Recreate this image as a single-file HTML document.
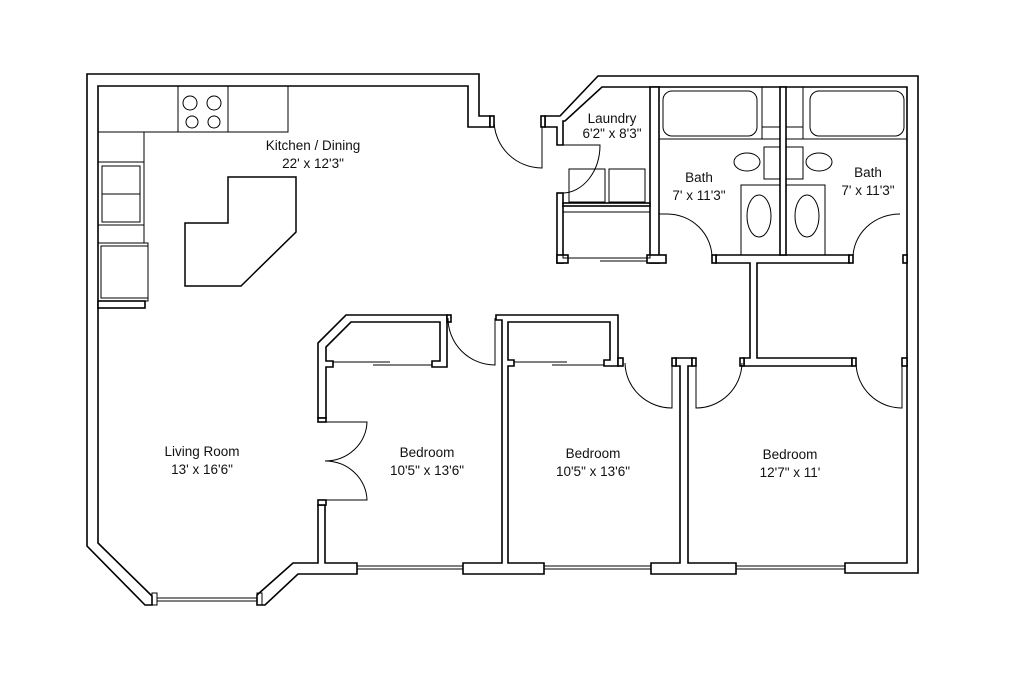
<!DOCTYPE html>
<html><head><meta charset="utf-8"><style>
html,body{margin:0;padding:0;background:#fff;}
svg{display:block;}
text{font-family:"Liberation Sans",sans-serif;font-size:13.5px;fill:#111;text-anchor:middle;}
</style></head><body>
<svg width="1024" height="683" viewBox="0 0 1024 683" xmlns="http://www.w3.org/2000/svg">
<rect width="1024" height="683" fill="#fff"/>
<g fill="#fff" stroke="#000" stroke-width="1.6" stroke-linejoin="miter">
<!-- left outer wall -->
<polygon points="87,74 479,74 479,116 490,116 490,127 468,127 468,86 98,86 98,543 152,596 152,605 145,605 87,546"/>
<!-- bedroom1 bottom wall -->
<polygon points="257,595 293,563 318,563 318,505 325,505 325,563 357,563 357,574 298,574 265,605 257,605"/>
<!-- bedroom1 closet wall -->
<polygon points="318,418 318,343 346,315 447,315 447,367 432,367 432,361 440,361 440,322 351,322 326,347 326,361 333,361 333,367 326,367 326,418"/>
<!-- bedroom2 wall -->
<polygon points="496,315 618,315 618,366 604,366 604,360 610,360 610,322 508,322 508,360 514,360 514,366 508,366 508,563 544,563 544,574 463,574 463,563 502,563 502,320 496,320"/>
<!-- wall between bed2 and bed3 -->
<polygon points="676,358 692,358 692,366 688,366 688,563 736,563 736,574 651,574 651,563 680,563 680,366 676,366"/>
<!-- central T -->
<polygon points="716,255 849,255 849,263 757,263 757,358 852,358 852,366 744,366 744,358 750,358 750,263 716,263"/>
<!-- right outer wall -->
<polygon points="545,116 560,116 598,76 918,76 918,573 845,573 845,563 907,563 907,87 602,87 565,121 563,121 563,145 557,145 557,127 545,127"/>
<!-- laundry/bath wall -->
<rect x="650" y="87" width="9" height="176"/>
<rect x="647" y="255" width="19" height="8"/>
<rect x="780" y="87" width="6" height="168"/>
<!-- laundry lower -->
<rect x="557" y="193" width="6" height="70"/>
<rect x="557" y="255" width="11" height="8"/>
<rect x="563" y="203" width="87" height="3"/>
<!-- small left wall stub -->
<rect x="98" y="301" width="47" height="7"/>
<!-- door jambs -->
<rect x="490" y="116" width="4" height="11"/>
<rect x="541" y="116" width="4" height="11"/>
<rect x="447" y="315" width="4" height="7"/>
<rect x="318" y="418" width="8" height="4"/>
<rect x="318" y="500" width="8" height="5"/>
<rect x="712" y="255" width="4" height="8"/>
<rect x="849" y="255" width="4" height="8"/>
<rect x="903" y="255" width="4" height="8"/>
<rect x="618" y="358" width="5" height="8"/>
<rect x="672" y="358" width="4" height="8"/>
<rect x="692" y="358" width="4" height="8"/>
<rect x="740" y="358" width="4" height="8"/>
<rect x="852" y="358" width="4" height="8"/>
<rect x="902" y="358" width="5" height="8"/>
</g>
<g fill="none" stroke="#000" stroke-width="1">
<!-- windows -->
<line x1="157" y1="598" x2="257" y2="598"/><line x1="157" y1="601" x2="257" y2="601"/>
<line x1="357" y1="566" x2="463" y2="566"/><line x1="357" y1="569" x2="463" y2="569"/>
<line x1="544" y1="566" x2="651" y2="566"/><line x1="544" y1="569" x2="651" y2="569"/>
<line x1="736" y1="566" x2="845" y2="566"/><line x1="736" y1="569" x2="845" y2="569"/>
<rect x="152" y="593" width="5" height="12"/><rect x="257" y="593" width="5" height="12"/>
<!-- closet sliding doors -->
<line x1="333" y1="362" x2="390" y2="362"/><line x1="373" y1="365" x2="432" y2="365"/>
<line x1="514" y1="362" x2="567" y2="362"/><line x1="552" y1="365" x2="604" y2="365"/>
<line x1="568" y1="258" x2="612" y2="258"/><line x1="600" y1="261" x2="647" y2="261"/>
<!-- doors -->
<path d="M494,121 A48,48 0 0 0 542,168 L542,127"/>
<path d="M448,318 A47,47 0 0 0 495,365 L495,318"/>
<path d="M326,422 L367,422 A42,40 0 0 1 325,461 A42,40 0 0 1 367,500 L326,500"/>
<path d="M563,145 L600,145 A38,48 0 0 1 563,193"/>
<path d="M667,214 A45,44 0 0 1 712,258"/>
<line x1="659" y1="214" x2="667" y2="214"/>
<path d="M900,214 A47,44 0 0 0 853,258"/>
<path d="M625,363 A47,46 0 0 0 672,408 L672,366"/>
<path d="M742,363 A46,46 0 0 1 696,408 L696,366"/>
<path d="M856,363 A46,46 0 0 0 902,408 L902,366"/>
<!-- kitchen -->
<rect x="98" y="86" width="190" height="46"/>
<line x1="178" y1="86" x2="178" y2="132"/><line x1="228" y1="86" x2="228" y2="132"/>
<circle cx="190" cy="103" r="7"/><circle cx="214" cy="103" r="7"/>
<circle cx="192" cy="122" r="6"/><circle cx="214" cy="122" r="6"/>
<rect x="98" y="132" width="46" height="111"/>
<line x1="98" y1="162" x2="144" y2="162"/><line x1="98" y1="225" x2="144" y2="225"/>
<rect x="102" y="166" width="38" height="56"/><line x1="102" y1="194" x2="140" y2="194"/>
<rect x="98" y="243" width="50" height="58"/>
<rect x="101" y="246" width="47" height="52"/>
<polygon stroke-width="1.5" points="228,177 296,177 296,232 241,286 185,286 185,223 228,223"/>
<!-- laundry -->
<rect x="569" y="169" width="36" height="33"/><rect x="609" y="169" width="36" height="33"/>
<rect x="563" y="212" width="87" height="46"/>
<!-- bath1 -->
<rect x="659" y="87" width="121" height="52"/>
<line x1="762" y1="87" x2="762" y2="139"/><line x1="762" y1="127" x2="780" y2="127"/>
<rect x="663" y="91" width="94" height="45" rx="9"/>
<ellipse cx="747" cy="162" rx="13" ry="9"/>
<rect x="764" y="147" width="16" height="32"/>
<rect x="741" y="185" width="39" height="70"/>
<ellipse cx="759" cy="216" rx="12" ry="21"/>
<!-- bath2 -->
<rect x="786" y="87" width="121" height="52"/>
<line x1="803" y1="87" x2="803" y2="139"/><line x1="786" y1="127" x2="803" y2="127"/>
<rect x="810" y="91" width="94" height="45" rx="9"/>
<ellipse cx="819" cy="162" rx="13" ry="9"/>
<rect x="786" y="147" width="17" height="32"/>
<rect x="786" y="185" width="39" height="70"/>
<ellipse cx="807" cy="216" rx="12" ry="21"/>
</g>
<text x="313" y="150">Kitchen / Dining</text>
<text x="313" y="168">22' x 12'3"</text>
<text x="612" y="123">Laundry</text>
<text x="612" y="138">6'2" x 8'3"</text>
<text x="699" y="182">Bath</text>
<text x="699" y="200">7' x 11'3"</text>
<text x="868" y="177">Bath</text>
<text x="868" y="195">7' x 11'3"</text>
<text x="202" y="456">Living Room</text>
<text x="202" y="474">13' x 16'6"</text>
<text x="427" y="457">Bedroom</text>
<text x="427" y="475">10'5" x 13'6"</text>
<text x="593" y="458">Bedroom</text>
<text x="593" y="476">10'5" x 13'6"</text>
<text x="790" y="459">Bedroom</text>
<text x="790" y="477">12'7" x 11'</text>
</svg>
</body></html>
